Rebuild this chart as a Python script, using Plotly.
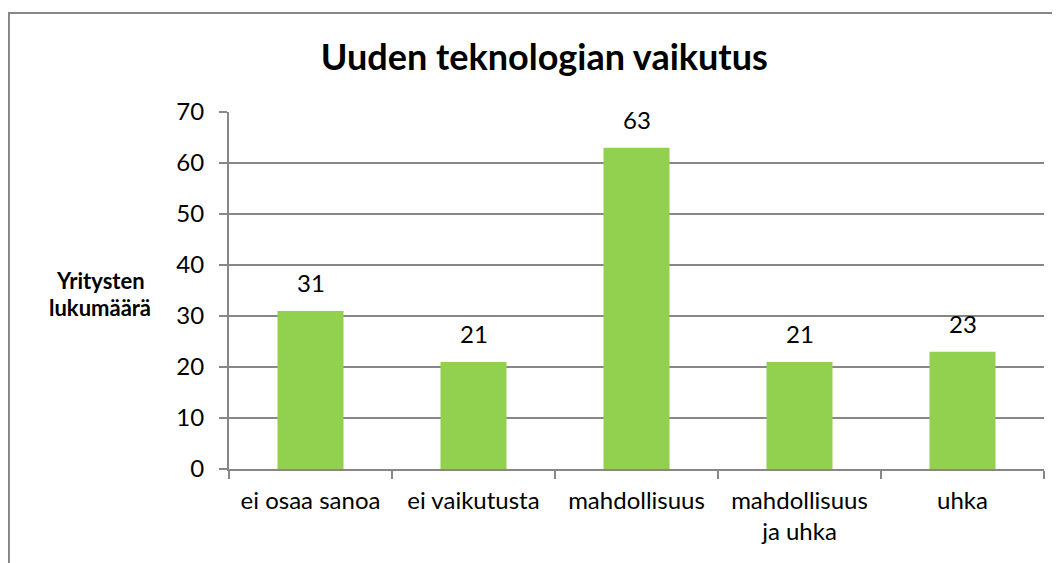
import plotly.graph_objects as go

categories = ["ei osaa sanoa", "ei vaikutusta", "mahdollisuus", "mahdollisuus<br>ja uhka", "uhka"]
counts = [31, 21, 63, 21, 23]
y_ticks = [0, 10, 20, 30, 40, 50, 60, 70]

grey = "#878787"
font_name = "Lato, Carlito, Calibri, sans-serif"

fig = go.Figure()

fig.add_trace(go.Bar(
    x=categories,
    y=counts,
    marker=dict(color="#92D050", line=dict(width=0)),
))

# value labels above the bars
for cat, val in zip(categories, counts):
    fig.add_annotation(
        x=cat, y=val, text=str(val),
        showarrow=False, yanchor="middle", yshift=28,
        font=dict(family=font_name, size=24, color="#000000"),
    )

fig.update_layout(
    width=1060,
    height=563,
    margin=dict(l=221, r=24, t=104, b=102),
    paper_bgcolor="white",
    plot_bgcolor="white",
    bargap=0.595,
    showlegend=False,
    font=dict(family=font_name, size=24, color="#000000"),
    title=dict(
        text="<b>Uuden teknologian vaikutus</b>",
        x=0.506, xanchor="center",
        y=0.913, yanchor="middle",
        font=dict(family=font_name, size=36, color="#000000"),
    ),
    xaxis=dict(
        showline=True, linecolor=grey, linewidth=2,
        ticks="outside", tickson="boundaries", ticklen=8, tickcolor=grey, tickwidth=2,
        showgrid=False,
        tickfont=dict(family=font_name, size=24),
        ticklabelstandoff=9,
    ),
    yaxis=dict(
        range=[0, 70],
        tickvals=y_ticks,
        showline=True, linecolor=grey, linewidth=2,
        ticks="outside", ticklen=8, tickcolor=grey, tickwidth=2,
        showgrid=True, gridcolor=grey, gridwidth=2,
        zeroline=False,
        tickfont=dict(family=font_name, size=24),
        ticklabelstandoff=10,
    ),
)

# horizontal y-axis title, one annotation per line
for line, ypos in [("Yritysten", 0.527), ("lukumäärä", 0.451)]:
    fig.add_annotation(
        text="<b>" + line + "</b>",
        xref="paper", yref="paper",
        x=-0.158, y=ypos, xanchor="center", yanchor="middle",
        showarrow=False,
        font=dict(family=font_name, size=22, color="#000000"),
    )

# outer chart border (right and bottom edges fall outside the picture)
fig.add_shape(
    type="rect", xref="paper", yref="paper",
    x0=-0.27, x1=1.1, y0=-0.4, y1=1.277,
    line=dict(color=grey, width=2),
)

fig.write_html("out.html")
